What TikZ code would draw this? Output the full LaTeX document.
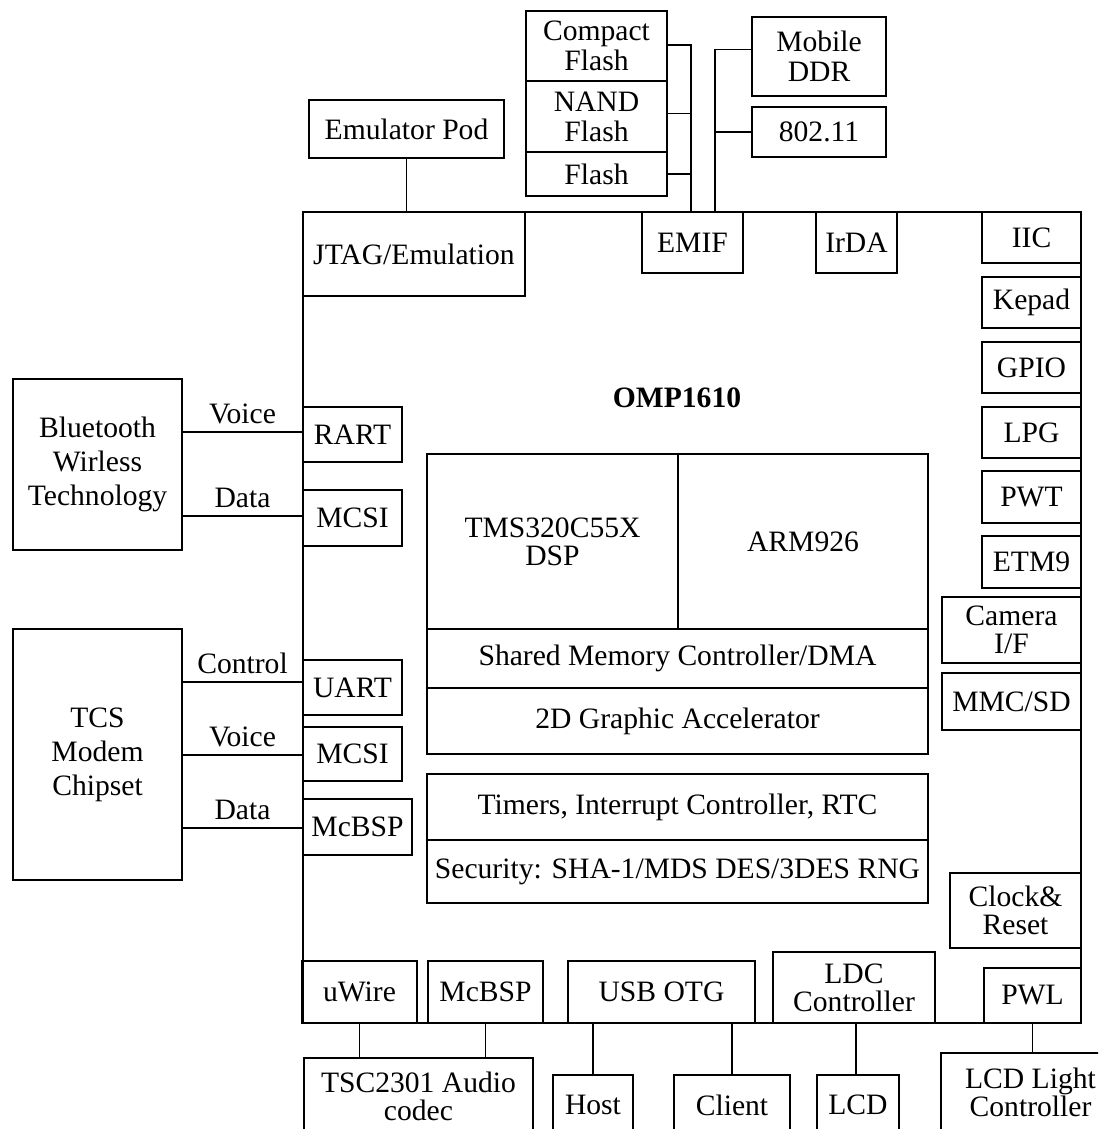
\documentclass[tikz,border=0pt]{standalone}
\usepackage{fontspec}
\setmainfont{Liberation Serif}
\newcommand\fs{\fontsize{29.6}{30}\selectfont}
\newcommand\fsn{\fontsize{29.6}{28}\selectfont}
\newcommand\fsw{\fontsize{29.6}{34}\selectfont}
\tikzset{
  box/.style={draw, line width=1.7pt, inner sep=0pt, outer sep=0pt, align=center, font=\fs},
  wire/.style={line width=1.7pt},
  lbl/.style={font=\fs, inner sep=0pt, above=7pt}
}
\newcommand\bx[7][]{\node[box,#1,minimum width={(#5)-(#3)},minimum height={(#6)-(#4)}] (#2) at ({((#3)+(#5))/2},{((#4)+(#6))/2}) {#7};}
\begin{document}
\begin{tikzpicture}[x=1pt,y=-1pt]
\useasboundingbox (0,0) rectangle (1098,1129);
\clip (0,0) rectangle (1098,1129);
% chip outline
\bx{chip}{303}{212}{1081}{1023}{}
\node[font=\fs\bfseries] (omp) at (677,398) {OMP1610};
% top
\bx{jtag}{303}{212}{525}{296}{JTAG/Emulation}
\bx{emif}{642}{212}{743}{273}{EMIF}
\bx{irda}{816}{212}{897}{273}{IrDA}
\bx{emu}{309}{100}{504}{158}{Emulator Pod}
\bx{cf}{526}{11}{667}{81}{Compact\\Flash}
\bx{nand}{526}{81}{667}{152}{NAND\\Flash}
\bx{fl}{526}{152}{667}{196}{Flash}
\bx{ddr}{752}{17}{886}{96}{Mobile\\DDR}
\bx{wlan}{752}{107}{886}{157}{802.11}
% right column
\bx{iic}{982}{212}{1081}{263}{IIC}
\bx{kepad}{982}{277}{1081}{328}{Kepad}
\bx{gpio}{982}{342}{1081}{393}{GPIO}
\bx{lpg}{982}{407}{1081}{458}{LPG}
\bx{pwt}{982}{471}{1081}{523}{PWT}
\bx{etm}{982}{536}{1081}{588}{ETM9}
\bx[font=\fsn]{cam}{942}{597}{1081}{663}{Camera\\I/F}
\bx{mmc}{942}{673}{1081}{730}{MMC/SD}
\bx[font=\fsn]{clk}{950}{873}{1081}{948}{Clock\&\\Reset}
% left
\bx[font=\fsw]{bt}{13}{379}{182}{550}{Bluetooth\\Wirless\\Technology}
\bx[font=\fsw]{tcs}{13}{629}{182}{880}{TCS\\Modem\\Chipset}
\bx{rart}{303}{407}{402}{462}{RART}
\bx{mcsia}{303}{490}{402}{546}{MCSI}
\bx{uart}{303}{660}{402}{715}{UART}
\bx{mcsib}{303}{727}{402}{781}{MCSI}
\bx{mcbspa}{303}{799}{412}{855}{McBSP}
% core
\bx[font=\fsn]{dsp}{427}{454}{678}{629}{TMS320C55X\\DSP}
\bx{arm}{678}{454}{928}{629}{ARM926}
\bx{smc}{427}{629}{928}{688}{Shared Memory Controller/DMA}
\bx{gfx}{427}{688}{928}{754}{2D Graphic Accelerator}
\bx{tim}{427}{774}{928}{840}{Timers, Interrupt Controller, RTC}
\bx{sec}{427}{840}{928}{903}{Security: SHA-1/MDS DES/3DES RNG}
% bottom
\bx{uwire}{302}{961}{417}{1023}{uWire}
\bx{mcbspb}{428}{961}{543}{1023}{McBSP}
\bx{usb}{568}{961}{755}{1023}{USB OTG}
\bx[font=\fsn]{ldc}{773}{952}{935}{1023}{LDC\\Controller}
\bx{pwl}{984}{968}{1081}{1023}{PWL}
\bx[font=\fsn]{tsc}{304}{1058}{533}{1135}{TSC2301 Audio\\codec}
\bx{host}{553}{1075}{633}{1135}{Host}
\bx{client}{674}{1075}{790}{1135}{Client}
\bx{lcd}{817}{1075}{899}{1135}{LCD}
\bx[font=\fsn]{llc}{941}{1053}{1120}{1132}{LCD Light\\Controller}
% connectors top
\coordinate (busa) at (691,212);
\coordinate (busb) at (715,212);
\draw[wire] ([yshift=1pt]cf.east) -| (busa);
\draw[wire] ([yshift=3pt]nand.east) -- ([yshift=3pt]nand.east -| busa);
\draw[wire] (fl.east) -- (fl.east -| busa);
\draw[wire] ([yshift=7pt]ddr.west) -| (busb);
\draw[wire] (wlan.west) -- (wlan.west -| busb);
\draw[wire] (emu.south) -- (emu.south |- jtag.north);
% connectors left
\draw[wire] (bt.east |- 0,432) -- node[lbl]{Voice} (rart.west |- 0,432);
\draw[wire] (bt.east |- 0,516) -- node[lbl]{Data} (mcsia.west |- 0,516);
\draw[wire] (tcs.east |- 0,682) -- node[lbl]{Control} (uart.west |- 0,682);
\draw[wire] (tcs.east |- 0,755) -- node[lbl]{Voice} (mcsib.west |- 0,755);
\draw[wire] (tcs.east |- 0,828) -- node[lbl]{Data} (mcbspa.west |- 0,828);
% connectors bottom
\draw[wire] (uwire.south) -- (uwire.south |- tsc.north);
\draw[wire] (mcbspb.south) -- (mcbspb.south |- tsc.north);
\draw[wire] (host.north) -- (host.north |- usb.south);
\draw[wire] (client.north) -- (client.north |- usb.south);
\draw[wire] (lcd.north -| 856,0) -- (ldc.south -| 856,0);
\draw[wire] (pwl.south) -- (pwl.south |- llc.north);
\end{tikzpicture}
\end{document}
